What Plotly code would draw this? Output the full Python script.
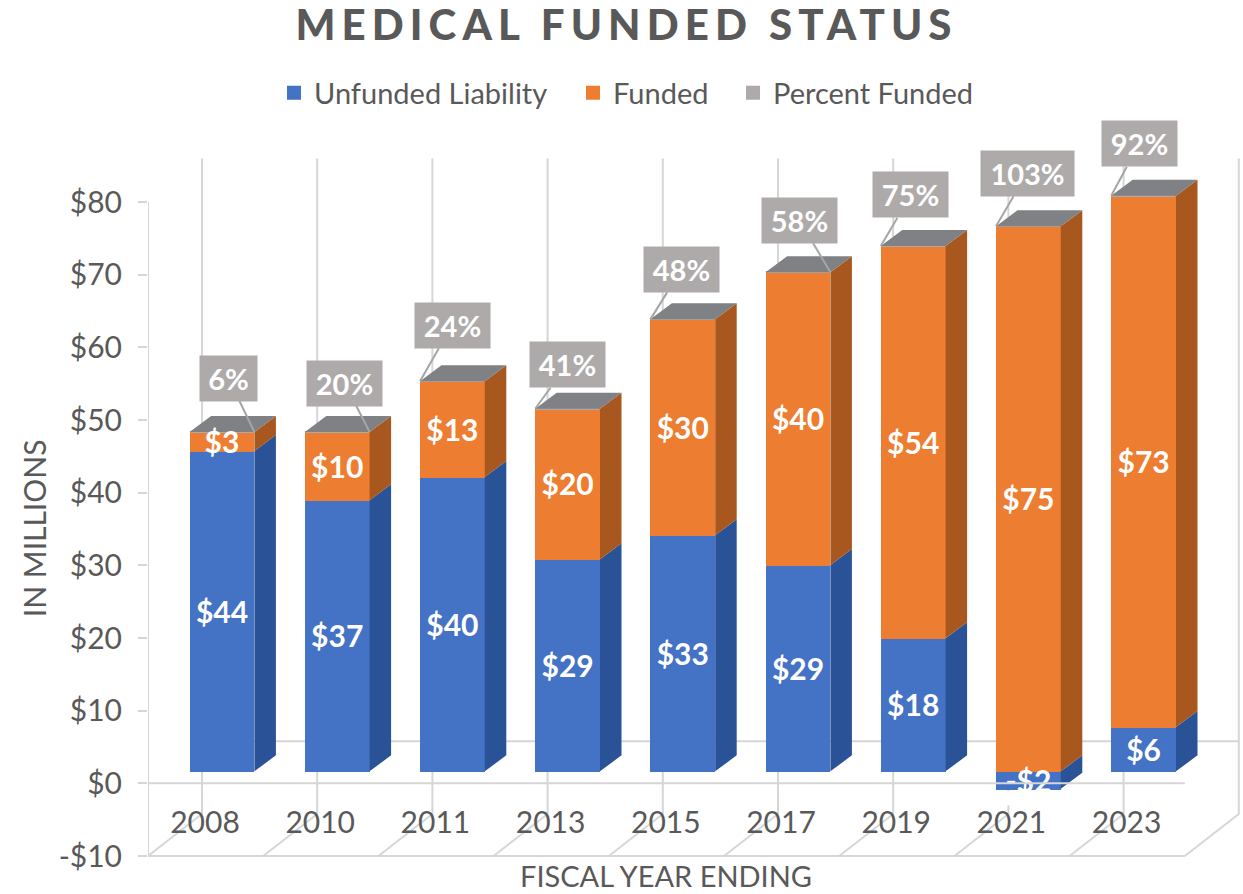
import plotly.graph_objects as go

years = ["2008", "2010", "2011", "2013", "2015", "2017", "2019", "2021", "2023"]
unfunded = [44.1, 37.3, 40.5, 29.2, 32.5, 28.4, 18.3, -2.4, 6.1]
funded = [2.6, 9.4, 13.2, 20.7, 29.7, 40.3, 54.0, 75.0, 73.1]
unfunded_labels = ["$44", "$37", "$40", "$29", "$33", "$29", "$18", "-$2", "$6"]
funded_labels = ["$3", "$10", "$13", "$20", "$30", "$40", "$54", "$75", "$73"]
percent_funded = ["6%", "20%", "24%", "41%", "48%", "58%", "75%", "103%", "92%"]
y_ticks = [-10, 0, 10, 20, 30, 40, 50, 60, 70, 80]
y_tick_labels = ["-$10", "$0", "$10", "$20", "$30", "$40", "$50", "$60", "$70", "$80"]

# layout of the pseudo-3D drawing
W, H = 1243, 894
L, R, T, B = 148, 1243, 150, 856.6
PX_X, X0 = 115.2, 222
PX_Y, Y0 = 7.2625, 783
xr = [(L - X0) / PX_X, (R - X0) / PX_X]
yr = [(Y0 - B) / PX_Y, (Y0 - T) / PX_Y]
half = 32.4 / PX_X
lift = 12 / PX_Y          # bars stand behind the front floor edge
dx, dy = 21.5 / PX_X, 16 / PX_Y
wx, wy = 54 / PX_X, 42 / PX_Y
label_drop = 4 / PX_Y
n = len(years)
xs = list(range(n))
GRID, TXT = "#d6d6d6", "#595959"
BLUE, ORANGE, GREY = "#4472c4", "#ed7d31", "#aeaaaa"
FONT = "Lato"

b0 = [lift] * n
b1 = [lift + max(u, 0) for u in unfunded]
blue_low = [lift + min(u, 0) for u in unfunded]
blue_high = [lift + max(u, 0) for u in unfunded]
tops = [b + f for b, f in zip(b1, funded)]


def side(lo, hi):
    px, py = [], []
    for i in xs:
        r = i + half
        px += [r, r + dx, r + dx, r, r, None]
        py += [lo[i], lo[i] + dy, hi[i] + dy, hi[i], lo[i], None]
    return px, py


bar_w = 2 * half - 2 / PX_X
fig = go.Figure()
fig.add_bar(x=xs, y=unfunded, base=b0, width=bar_w, marker=dict(color=BLUE, line=dict(width=2, color=BLUE)),
            name="Unfunded Liability", legend="legend", hoverinfo="skip")
fig.add_bar(x=xs, y=funded, base=b1, width=bar_w, marker=dict(color=ORANGE, line=dict(width=2, color=ORANGE)),
            name="Funded", legend="legend2", hoverinfo="skip")
fig.add_bar(x=xs, y=[0 for _ in percent_funded], base=tops, width=bar_w,
            marker=dict(color=GREY, line=dict(width=2, color=GREY)),
            name="Percent Funded", legend="legend3", hoverinfo="skip")

sx, sy = side(blue_low, blue_high)
fig.add_scatter(x=sx, y=sy, mode="lines", fill="toself", fillcolor="#2a5296", line=dict(width=0),
                showlegend=False, hoverinfo="skip")
sx, sy = side(b1, tops)
fig.add_scatter(x=sx, y=sy, mode="lines", fill="toself", fillcolor="#a8571f", line=dict(width=0),
                showlegend=False, hoverinfo="skip")
tx, ty = [], []
for i in xs:
    l, r = i - half, i + half
    tx += [l, r, r + dx, l + dx, l, None]
    ty += [tops[i], tops[i], tops[i] + dy, tops[i] + dy, tops[i], None]
fig.add_scatter(x=tx, y=ty, mode="lines", fill="toself", fillcolor="#7f8184", line=dict(width=0),
                showlegend=False, hoverinfo="skip")

label_font = dict(family=FONT, size=30, color="white", weight="bold")
fig.add_scatter(x=xs, y=[(a + b) / 2 - label_drop for a, b in zip(blue_low, blue_high)], mode="text",
                text=unfunded_labels, textfont=label_font, showlegend=False, hoverinfo="skip", cliponaxis=False)
fig.add_scatter(x=xs, y=[(a + b) / 2 - label_drop for a, b in zip(b1, tops)], mode="text",
                text=funded_labels, textfont=label_font, showlegend=False, hoverinfo="skip", cliponaxis=False)

# frame of the 3D box
shapes = []


def seg(x0, y0, x1, y1, layer="below"):
    shapes.append(dict(type="line", xref="x", yref="y", x0=x0, y0=y0, x1=x1, y1=y1, layer=layer,
                       line=dict(color=GRID, width=2)))


left = xr[0]
for i in range(n + 1):
    fx = left + i
    seg(fx, -10, fx + wx, -10 + wy)
    seg(fx + wx, -10 + wy, fx + wx, 86)
seg(left, -10, left + n, -10)
seg(left, -10, left, 80)
seg(left + wx, wy, left + n + wx, wy)
# white cover below the -$2 bar, then the $0 edge in front of the bars
shapes.append(dict(type="rect", xref="x", yref="y", x0=7 - half - 0.02, x1=7 + half + 0.15, y0=-1.05, y1=-3,
                   layer="above", fillcolor="white", line_width=0))
seg(left, 0, left + n, 0, layer="above")

# leader-tip corner and box offset for each percent label
tip_side = [1, 1, -1, -1, -1, 1, -1, -1, -1]
box_ax = [-26, -25, 32, 32, 31, -31, 30, 31, 28]
box_ay = [-54, -49, -56, -44, -50, -52, -51, -53, -52]
box_w = [57, 75, 75, 75, 75, 75, 75, 93, 75]
anns = []
for i in xs:
    anns.append(dict(x=i + tip_side[i] * half, y=tops[i], xref="x", yref="y", text=percent_funded[i],
                     showarrow=True, arrowhead=0, arrowwidth=2, arrowcolor="#a5a5a5", ax=box_ax[i], ay=box_ay[i],
                     bgcolor="#aeaaaa", width=box_w[i], height=45, borderpad=0,
                     font=dict(family=FONT, size=29, color="white", weight="bold")))
plot_w, plot_h = R - L, B - T
anns.append(dict(xref="paper", yref="paper", x=(666 - L) / plot_w, y=(B - 875) / plot_h, text="FISCAL YEAR ENDING",
                 xanchor="center", yanchor="middle", showarrow=False, borderpad=0, borderwidth=0,
                 font=dict(family=FONT, size=29, color=TXT)))
anns.append(dict(xref="paper", yref="paper", x=(34 - L) / plot_w, y=(B - 528) / plot_h, text="IN MILLIONS",
                 xanchor="center", yanchor="middle", textangle=-90, showarrow=False,
                 font=dict(family=FONT, size=30, color=TXT)))


def legend_at(px):
    return dict(x=(px - L) / plot_w, y=(B - 93) / plot_h, xanchor="left", yanchor="middle", orientation="h",
                font=dict(family=FONT, size=29, color=TXT), bgcolor="rgba(0,0,0,0)")


fig.update_layout(
    width=W, height=H, margin=dict(l=L, r=W - R, t=T, b=H - B, autoexpand=False),
    paper_bgcolor="white", plot_bgcolor="white", barmode="overlay", bargap=0,
    font=dict(family=FONT, color=TXT),
    title=dict(text="MEDICAL FUNDED STATUS", x=626.5 / W, xanchor="center", y=1 - 25 / H, yanchor="middle",
               yref="container", font=dict(family=FONT, size=42, color=TXT, weight=900)),
    xaxis=dict(range=xr, tickvals=[i - 17 / PX_X for i in xs], ticktext=years, showgrid=False, zeroline=False,
               showline=False, ticks="", anchor="free", position=(B - 802) / plot_h,
               tickfont=dict(family=FONT, size=30, color=TXT)),
    yaxis=dict(range=yr, tickvals=y_ticks, ticktext=y_tick_labels, showgrid=False, zeroline=False, showline=False,
               ticks="outside", ticklen=9, tickwidth=2, tickcolor=GRID, ticklabelstandoff=10,
               tickfont=dict(family=FONT, size=30, color=TXT)),
    legend=legend_at(274), legend2=legend_at(573), legend3=legend_at(733),
    shapes=shapes, annotations=anns,
)

fig.write_html("out.html", config=dict(displayModeBar=False), post_script=(
    "document.body.style.margin='0';"
    "document.querySelectorAll('.gtitle').forEach(function(e){e.style.letterSpacing='6.1px';});"
))
